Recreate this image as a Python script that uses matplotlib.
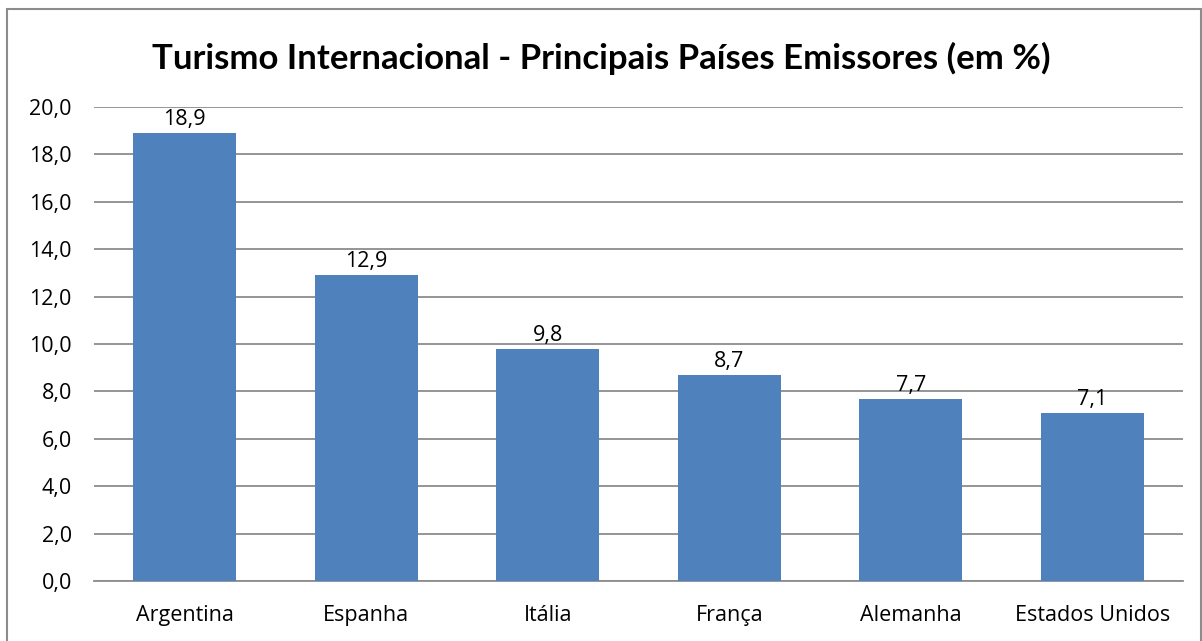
import matplotlib.pyplot as plt
from matplotlib.patches import Rectangle
from matplotlib.ticker import FuncFormatter

# dados
paises = ['Argentina', 'Espanha', 'Itália', 'França', 'Alemanha', 'Estados Unidos']
valores = [18.9, 12.9, 9.8, 8.7, 7.7, 7.1]
yticks = [0, 2, 4, 6, 8, 10, 12, 14, 16, 18, 20]

plt.rcParams['font.family'] = ['Open Sans', 'DejaVu Sans']

W, H = 1202, 641
fig = plt.figure(figsize=(W / 100, H / 100), dpi=100)
ax = fig.add_axes([94 / W, (H - 581) / H, (1183 - 94) / W, (581 - 107) / H])

x = range(len(paises))
bars = ax.bar(x, valores, width=0.57, color='#4F81BD', zorder=3)
for b, v in zip(bars, valores):
    ax.annotate(('%.1f' % v).replace('.', ','), (b.get_x() + b.get_width() / 2, v),
                xytext=(0, 2), textcoords='offset points', ha='center', va='bottom',
                fontsize=15.5)

ax.set_xlim(-0.5, len(paises) - 0.5)
ax.set_ylim(0, 20)
ax.set_yticks(yticks)
ax.yaxis.set_major_formatter(FuncFormatter(lambda v, p: ('%.1f' % v).replace('.', ',')))
ax.set_xticks(list(x))
ax.set_xticklabels(paises)
ax.tick_params(axis='both', length=0, labelsize=15.5)
ax.tick_params(axis='y', pad=16)
ax.tick_params(axis='x', pad=17)
ax.grid(axis='y', color='#8C8C8C', linewidth=1.3, zorder=0)
for s in ['left', 'right', 'top']:
    ax.spines[s].set_visible(False)
ax.spines['bottom'].set_color('#8C8C8C')
ax.spines['bottom'].set_linewidth(1.3)

fig.text(0.5, 1 - 58 / H, 'Turismo Internacional - Principais Países Emissores (em %)',
         ha='center', va='center', fontsize=25, fontweight='bold', family=['Lato', 'DejaVu Sans'])

# moldura externa
fig.patches.append(Rectangle((7 / W, -0.01), (1201 - 7) / W, 1 - 9 / H + 0.01,
                             transform=fig.transFigure, fill=False,
                             edgecolor='#8C8C8C', linewidth=1.5))

fig.savefig('out.png', dpi=100)
